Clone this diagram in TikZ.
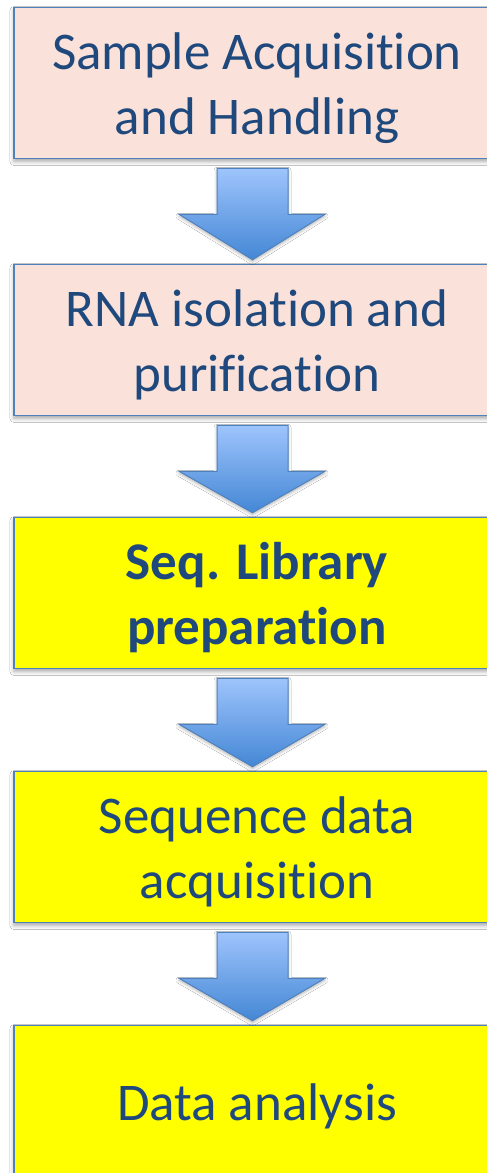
\documentclass[tikz,border=0pt]{standalone}
\usepackage{fontspec}
\setmainfont{Carlito}[RawFeature={-liga;-clig;-calt;-dlig}]
\usetikzlibrary{calc,shadows.blur}

\definecolor{inktext}{RGB}{31,73,125}
\definecolor{edgeblue}{RGB}{79,129,189}
\definecolor{pinkfill}{RGB}{250,225,217}
\definecolor{yellowfill}{RGB}{255,255,0}
\definecolor{arrowtop}{RGB}{158,196,252}
\definecolor{arrowbot}{RGB}{68,135,213}

\tikzset{
  stage/.style={draw=edgeblue, line width=1.6pt, minimum width=486pt,
    minimum height=151pt, inner sep=0pt,
    blur shadow={shadow xshift=0pt, shadow yshift=-3pt,
      shadow blur radius=4pt, shadow opacity=35}},
  pinkstage/.style={stage, fill=pinkfill},
  yellowstage/.style={stage, fill=yellowfill},
  stagetext/.style={text=inktext, align=center, inner sep=0pt,
    font=\fontsize{53}{65}\selectfont, yshift=-5pt},
  flowarrow/.style={draw=edgeblue, line width=1pt, line join=miter,
    top color=arrowtop, bottom color=arrowbot,
    blur shadow={shadow xshift=0pt, shadow yshift=-2pt,
      shadow blur radius=3pt, shadow opacity=30}},
}

% block arrow from the bottom of one stage to the top of the next
\newcommand{\stagearrow}[2]{%
  \path[flowarrow]
    ($(#1.south)+(-40,9)$) -- ($(#1.south)+(31,9)$) --
    ($(#1.south)+(31,55)$) -- ($(#1.south)+(68,55)$) --
    ($(#2.north)+(-4.5,-4)$) --
    ($(#1.south)+(-78,55)$) -- ($(#1.south)+(-40,55)$) -- cycle;}

\begin{document}
\begin{tikzpicture}[x=1pt,y=-1pt]
  \useasboundingbox (0,0) rectangle (487,1173);
  \fill[white] (0,0) rectangle (487,1173);
  \clip (0,0) rectangle (487,1173);

  % stages
  \node[pinkstage]   (b1) at (257,83)   {};
  \node[pinkstage]   (b2) at (257,340)  {};
  \node[yellowstage] (b3) at (257,593)  {};
  \node[yellowstage] (b4) at (257,847)  {};
  \node[yellowstage] (b5) at (257,1101) {};

  % arrows between stages
  \stagearrow{b1}{b2}
  \stagearrow{b2}{b3}
  \stagearrow{b3}{b4}
  \stagearrow{b4}{b5}

  % stage labels
  \node[stagetext] (t1) at (b1.center) {Sample Acquisition\\and Handling};
  \node[stagetext] (t2) at (b2.center) {RNA isolation and\\purification};
  \node[stagetext, font=\fontsize{53}{65}\selectfont\bfseries] (t3) at (b3.center) {Seq. Library\\preparation};
  \node[stagetext] (t4) at (b4.center) {Sequence data\\acquisition};
  \node[stagetext] (t5) at (b5.center) {Data analysis};
\end{tikzpicture}
\end{document}
